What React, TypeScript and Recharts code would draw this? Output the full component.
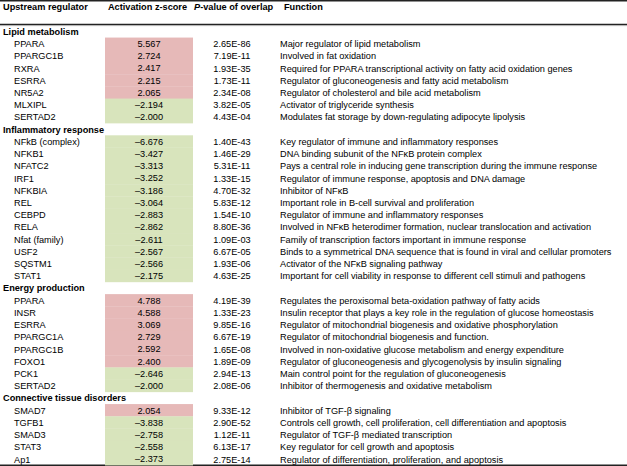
import React from "react";
import { BarChart, Bar, XAxis, YAxis, Customized } from "recharts";

const groups = [
  "Lipid metabolism",
  "Inflammatory response",
  "Energy production",
  "Connective tissue disorders",
];

const lipidRegulators = ["PPARA", "PPARGC1B", "RXRA", "ESRRA", "NR5A2", "MLXIPL", "SERTAD2"];
const lipidZ = [5.567, 2.724, 2.417, 2.215, 2.065, -2.194, -2.0];
const lipidP = ["2.65E-86", "7.19E-11", "1.93E-35", "1.73E-11", "2.34E-08", "3.82E-05", "4.43E-04"];
const lipidFn = [
  "Major regulator of lipid metabolism",
  "Involved in fat oxidation",
  "Required for PPARA transcriptional activity on fatty acid oxidation genes",
  "Regulator of gluconeogenesis and fatty acid metabolism",
  "Regulator of cholesterol and bile acid metabolism",
  "Activator of triglyceride synthesis",
  "Modulates fat storage by down-regulating adipocyte lipolysis",
];

const inflamRegulators = [
  "NFkB (complex)", "NFKB1", "NFATC2", "IRF1", "NFKBIA", "REL", "CEBPD", "RELA",
  "Nfat (family)", "USF2", "SQSTM1", "STAT1",
];
const inflamZ = [-6.676, -3.427, -3.313, -3.252, -3.186, -3.064, -2.883, -2.862, -2.611, -2.567, -2.566, -2.175];
const inflamP = [
  "1.40E-43", "1.46E-29", "5.31E-11", "1.33E-15", "4.70E-32", "5.83E-12", "1.54E-10",
  "8.80E-36", "1.09E-03", "6.67E-05", "1.93E-06", "4.63E-25",
];
const inflamFn = [
  "Key regulator of immune and inflammatory responses",
  "DNA binding subunit of the NFκB protein complex",
  "Pays a central role in inducing gene transcription during the immune response",
  "Regulator of immune response, apoptosis and DNA damage",
  "Inhibitor of NFκB",
  "Important role in B-cell survival and proliferation",
  "Regulator of immune and inflammatory responses",
  "Involved in NFκB heterodimer formation, nuclear translocation and activation",
  "Family of transcription factors important in immune response",
  "Binds to a symmetrical DNA sequence that is found in viral and cellular promoters",
  "Activator of the NFκB signaling pathway",
  "Important for cell viability in response to different cell stimuli and pathogens",
];

const energyRegulators = ["PPARA", "INSR", "ESRRA", "PPARGC1A", "PPARGC1B", "FOXO1", "PCK1", "SERTAD2"];
const energyZ = [4.788, 4.588, 3.069, 2.729, 2.592, 2.4, -2.646, -2.0];
const energyP = ["4.19E-39", "1.33E-23", "9.85E-16", "6.67E-19", "1.65E-08", "1.89E-09", "2.94E-13", "2.08E-06"];
const energyFn = [
  "Regulates the peroxisomal beta-oxidation pathway of fatty acids",
  "Insulin receptor that plays a key role in the regulation of glucose homeostasis",
  "Regulator of mitochondrial biogenesis and oxidative phosphorylation",
  "Regulator of mitochondrial biogenesis and function.",
  "Involved in non-oxidative glucose metabolism and energy expenditure",
  "Regulator of gluconeogenesis and glycogenolysis by insulin signaling",
  "Main control point for the regulation of gluconeogenesis",
  "Inhibitor of thermogenesis and oxidative metabolism",
];

const connRegulators = ["SMAD7", "TGFB1", "SMAD3", "STAT3", "Ap1"];
const connZ = [2.054, -3.838, -2.758, -2.558, -2.373];
const connP = ["9.33E-12", "2.90E-52", "1.12E-11", "6.13E-17", "2.75E-14"];
const connFn = [
  "Inhibitor of TGF-β signaling",
  "Controls cell growth, cell proliferation, cell differentiation and apoptosis",
  "Regulator of TGF-β mediated transcription",
  "Key regulator for cell growth and apoptosis",
  "Regulator of differentiation, proliferation, and apoptosis",
];

const headers = ["Upstream regulator", "Activation z-score", "P-value of overlap", "Function"];

const groupData = [
  [lipidRegulators, lipidZ, lipidP, lipidFn],
  [inflamRegulators, inflamZ, inflamP, inflamFn],
  [energyRegulators, energyZ, energyP, energyFn],
  [connRegulators, connZ, connP, connFn],
] as const;

type Row = { id: string; kind: "group" | "item"; label: string; z: number | null; p: string; fn: string };

const rows: Row[] = [];
groups.forEach((g, gi) => {
  rows.push({ id: "r" + rows.length, kind: "group", label: g, z: null, p: "", fn: "" });
  const [regs, zs, ps, fns] = groupData[gi] as any;
  regs.forEach((r: string, i: number) => {
    rows.push({ id: "r" + rows.length, kind: "item", label: r, z: zs[i], p: ps[i], fn: fns[i] });
  });
});
const rowById: Record<string, Row> = {};
rows.forEach((r) => (rowById[r.id] = r));

const FONT = "'Liberation Sans', Arial, Helvetica, sans-serif";
const FS = 9.2;
const COL = { group: 3, name: 14, cellX: 105, cellW: 88, zMid: 149, pMid: 232, fn: 280 };
const POS = "#E6B9B8";
const NEG = "#D8E4BC";

const fmtZ = (z: number) => (z < 0 ? "\u2013" + Math.abs(z).toFixed(3) : z.toFixed(3));

const renderRowTick = (props: any) => {
  const { y, payload } = props;
  const row = rowById[payload && payload.value];
  if (!row) return <g />;
  if (row.kind === "group") {
    return (
      <text x={COL.group} y={y} dy="0.35em" fontFamily={FONT} fontSize={FS} fontWeight="bold" fill="#000">
        {row.label}
      </text>
    );
  }
  return (
    <g fontFamily={FONT} fontSize={FS} fill="#000">
      <text x={COL.name} y={y} dy="0.35em" fill="#000">{row.label}</text>
      <text x={COL.pMid} y={y} dy="0.35em" textAnchor="middle" fill="#000">{row.p}</text>
      <text x={COL.fn} y={y} dy="0.35em" fill="#000">{row.fn}</text>
    </g>
  );
};

const CellShape = (props: any) => {
  const { y, height, payload } = props;
  if (!payload || payload.z == null) return null;
  const z = payload.z as number;
  return (
    <g>
      <rect x={COL.cellX} y={y - 0.25} width={COL.cellW} height={height + 0.5} fill={z >= 0 ? POS : NEG} />
      <text x={COL.zMid} y={y + height / 2} dy="0.35em" textAnchor="middle" fontFamily={FONT} fontSize={FS} fill="#000">
        {fmtZ(z)}
      </text>
    </g>
  );
};

const Header = (props: any) => {
  const W = 627;
  const hy = 7;
  return (
    <g fontFamily={FONT} fontSize={FS} fontWeight="bold" fill="#000">
      <line x1={0} x2={W} y1={0.75} y2={0.75} stroke="#222" strokeWidth={1.5} />
      <text x={3} y={hy} dy="0.35em">{headers[0]}</text>
      <text x={147.5} y={hy} dy="0.35em" textAnchor="middle">{headers[1]}</text>
      <text x={194} y={hy} dy="0.35em">
        <tspan fontStyle="italic">{headers[2].charAt(0)}</tspan>
        <tspan>{headers[2].slice(1)}</tspan>
      </text>
      <text x={284} y={hy} dy="0.35em">{headers[3]}</text>
      <line x1={0} x2={W} y1={24.3} y2={24.3} stroke="#222" strokeWidth={1.2} />
      <line x1={0} x2={W} y1={25.6} y2={25.6} stroke="#999" strokeWidth={0.8} />
      <line x1={0} x2={W} y1={465.2} y2={465.2} stroke="#222" strokeWidth={1.5} />
    </g>
  );
};

export default function App() {
  return (
    <div style={{ position: "absolute", left: 0, top: 0, width: 627, height: 466, background: "#fff" }}>
      <BarChart
        width={627}
        height={466}
        data={rows}
        layout="vertical"
        margin={{ top: 25.6, right: 0, bottom: 0.6, left: 0 }}
        barCategoryGap={0}
      >
        <XAxis type="number" hide domain={[-7, 7]} />
        <YAxis
          type="category"
          dataKey="id"
          width={1}
          axisLine={false}
          tickLine={false}
          interval={0}
          tick={renderRowTick}
        />
        <Bar dataKey="z" isAnimationActive={false} shape={<CellShape />} />
        <Customized component={Header} />
      </BarChart>
    </div>
  );
}
